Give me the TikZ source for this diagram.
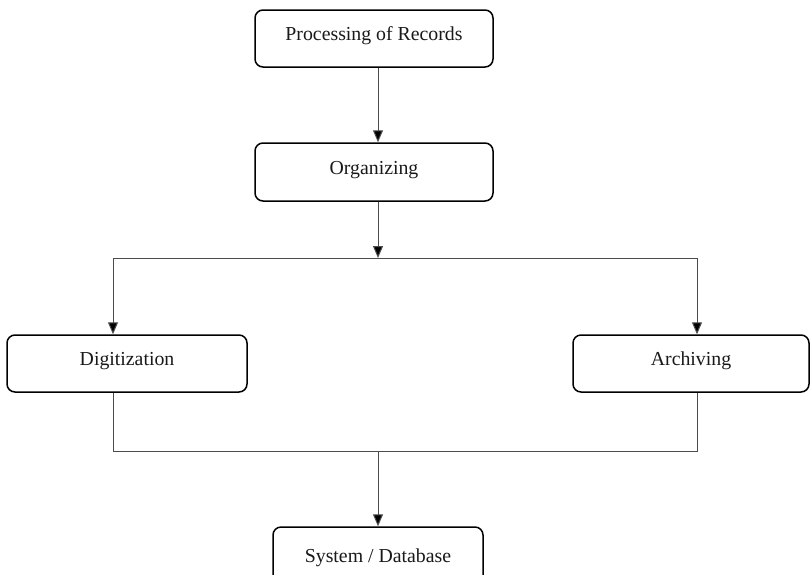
\documentclass[tikz,border=0pt]{standalone}
\usepackage{fontspec}
\setmainfont{Liberation Serif}
\usetikzlibrary{arrows.meta}
\tikzset{
  box/.style={draw=black, line width=1.5pt, rounded corners=8pt, minimum height=57pt,
    inner sep=0pt, text height=14pt, text depth=10pt,
    font=\fontsize{19.8}{24}\selectfont, text=black!90},
  link/.style={draw=black!70, line width=1pt},
  arr/.style={link, -{Triangle[length=12pt,width=10pt,fill=black]}}
}
\begin{document}
\begin{tikzpicture}[x=1pt,y=-1pt]
\useasboundingbox (0,0) rectangle (810,574);
\clip (0,0) rectangle (810,574);
\fill[white] (0,0) rectangle (810,574);
\coordinate (spine) at (378,0);
\coordinate (dl) at (113,0);
\coordinate (ar) at (697,0);
\coordinate (j1) at (378,258);
\coordinate (j2) at (378,451);
\node[box, minimum width=238pt] (proc) at (374,38.5) {Processing of Records};
\node[box, minimum width=238pt, minimum height=58pt] (org) at (374,172) {Organizing};
\node[box, minimum width=240pt] (dig) at (127,363.5) {Digitization};
\node[box, minimum width=236pt] (arch) at (691,363.5) {Archiving};
\node[box, minimum width=210pt, minimum height=67pt] (sys) at (378,560.5) {System / Database};
\draw[arr] (proc.south -| spine) -- (org.north -| spine);
\draw[arr] (org.south -| spine) -- (j1);
\draw[arr] (j1) -| (dig.north -| dl);
\draw[arr] (j1) -| (arch.north -| ar);
\draw[link] (dig.south -| dl) |- (j2);
\draw[link] (arch.south -| ar) |- (j2);
\draw[arr] (j2) -- (sys.north -| spine);
\end{tikzpicture}
\end{document}
